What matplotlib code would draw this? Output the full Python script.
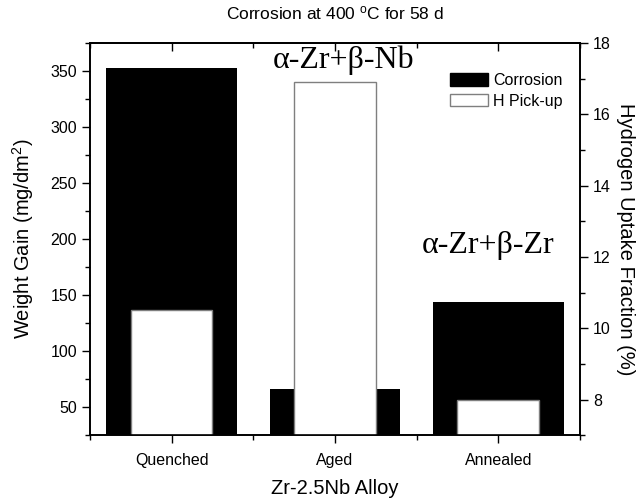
import matplotlib
matplotlib.use("Agg")
import matplotlib.pyplot as plt
from matplotlib.patches import Patch
from matplotlib.ticker import MultipleLocator, FixedLocator

# values
conditions = ["Quenched", "Aged", "Annealed"]
weight_gain = [353, 66, 143.5]  # mg/dm2, left axis
h_pickup = [10.5, 16.9, 8.0]  # %, right axis
phase_labels = ["α-Zr+β-Nb", "α-Zr+β-Zr"]

plt.rcParams["font.family"] = ["Liberation Sans", "DejaVu Sans"]
plt.rcParams["mathtext.default"] = "regular"

W, H = 642, 498
fig = plt.figure(figsize=(W / 100, H / 100), dpi=100)
ax = fig.add_axes([90 / W, 1 - 435.3 / H, 490 / W, 392.3 / H])

x = list(range(1, len(conditions) + 1))
ax.bar(x, weight_gain, width=0.8, color="black", linewidth=0)

ax2 = ax.twinx()
ax2.bar(x, h_pickup, width=0.5, facecolor="white", edgecolor="#7f7f7f", linewidth=1)

ax.set_xlim(0.5, 3.5)
ax.set_ylim(25, 375)
ax2.set_ylim(7, 18)

ax.set_xticks(x)
ax.set_xticklabels(conditions)
ax.xaxis.set_minor_locator(FixedLocator([0.5, 1.5, 2.5, 3.5]))
ax.yaxis.set_major_locator(MultipleLocator(50))
ax.yaxis.set_minor_locator(MultipleLocator(25))
ax2.yaxis.set_major_locator(MultipleLocator(2))
ax2.yaxis.set_minor_locator(MultipleLocator(1))

for a in (ax, ax2):
    for s in a.spines.values():
        s.set_linewidth(1.2)
    a.tick_params(which="major", length=5.8, width=1, labelsize=11.5, direction="out")
    a.tick_params(which="minor", length=3.6, width=1, direction="out")
ax.tick_params(axis="x", pad=7)

# top axis: ticks point inward, no labels
top = ax.secondary_xaxis("top")
top.set_xticks(x)
top.xaxis.set_minor_locator(FixedLocator([0.5, 1.5, 2.5, 3.5]))
top.tick_params(which="major", direction="in", length=5.8, width=1, labeltop=False)
top.tick_params(which="minor", direction="in", length=3.6, width=1)
top.spines["top"].set_linewidth(1.2)

ymid = 0.5 * (1 - 435.3 / H + 1 - 43 / H)
fig.text(335 / W, 1 - 13 / H, "Corrosion at 400 $^{o}$C for 58 d", ha="center", va="center", fontsize=12.5)
fig.text(335 / W, 1 - 488 / H, "Zr-2.5Nb Alloy", ha="center", va="center", fontsize=14.5)
fig.text(23 / W, ymid, "Weight Gain (mg/dm$^{2}$)",
         rotation=90, ha="center", va="center", fontsize=14.5)
fig.text(625 / W, ymid, "Hydrogen Uptake Fraction (%)",
         rotation=-90, ha="center", va="center", fontsize=14.5)

ax2.text(0.517, 0.936, phase_labels[0], transform=ax2.transAxes, ha="center", va="baseline",
         fontsize=23, family="Liberation Serif")
ax2.text(0.813, 0.465, phase_labels[1], transform=ax2.transAxes, ha="center", va="baseline",
         fontsize=23, family="Liberation Serif")

handles = [Patch(facecolor="black", edgecolor="black", label="Corrosion"),
           Patch(facecolor="white", edgecolor="#7f7f7f", linewidth=1, label="H Pick-up")]
ax2.legend(handles=handles, loc="upper left", bbox_to_anchor=(450 / W, 1 - 73 / H),
           bbox_transform=fig.transFigure, frameon=False, fontsize=11.5,
           borderpad=0, borderaxespad=0, handlelength=2.4, handleheight=0.85,
           handletextpad=0.3, labelspacing=0.35)

fig.savefig("out.png", dpi=100)
